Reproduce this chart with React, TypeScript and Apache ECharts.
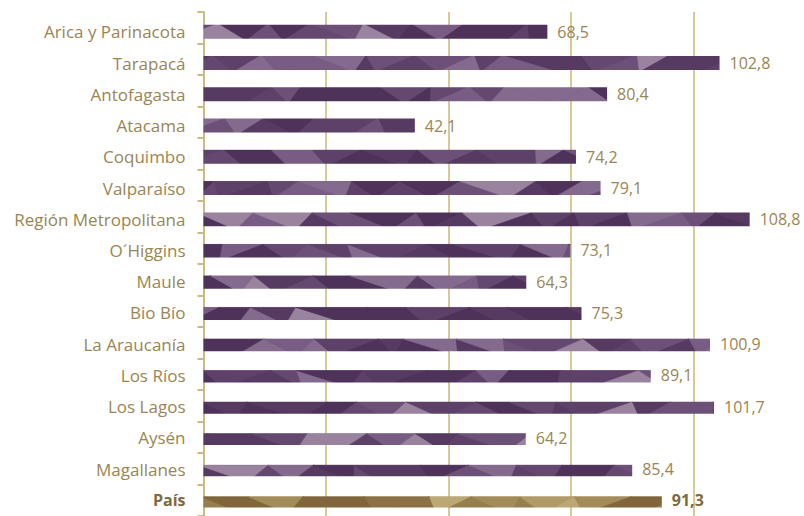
import { useEffect, useRef } from "react";
import * as echarts from "echarts";

const regions = [
  "Arica y Parinacota",
  "Tarapacá",
  "Antofagasta",
  "Atacama",
  "Coquimbo",
  "Valparaíso",
  "Región Metropolitana",
  "O´Higgins",
  "Maule",
  "Bio Bío",
  "La Araucanía",
  "Los Ríos",
  "Los Lagos",
  "Aysén",
  "Magallanes",
  "País",
];
const values = [68.5, 102.8, 80.4, 42.1, 74.2, 79.1, 108.8, 73.1, 64.3, 75.3, 100.9, 89.1, 101.7, 64.2, 85.4, 91.3];
const totalLabel = "País";

const W = 804;
const H = 516;
const LEFT = 203.5;
const PX = 5.02;
const STEP = 24.4;
const XMAX = 119;
const BAND = 31.55;
const N = regions.length;
const TOP_A = 12;
const TOP_B = 16.2;
const BAR = 14;

const purple = ["#4f325a", "#573a62", "#5e4169", "#654870", "#6d5078", "#785c83", "#846a8d", "#9a839f"];
const gold = ["#80663a", "#8b7144", "#977e4e", "#a48c5a", "#b09a67", "#bca874", "#c6b480"];

function frac(x: number) {
  return x - Math.floor(x);
}
function hs(a: number, b: number) {
  return frac(Math.sin(a * 127.1 + b * 311.7) * 43758.5453);
}

function makeTexture(): string {
  const c = document.createElement("canvas");
  c.width = W;
  c.height = H;
  const g = c.getContext("2d")!;
  for (let i = 0; i < N; i++) {
    const pal = i === N - 1 ? gold : purple;
    const yc = TOP_B + (i + 0.5) * BAND;
    const y0 = yc - BAR / 2 - 1.5;
    const y1 = yc + BAR / 2 + 1.5;
    g.fillStyle = pal[2];
    g.fillRect(0, y0, W, y1 - y0);
    const step = 52;
    const tops: number[] = [];
    const bots: number[] = [];
    for (let k = -1; k * step < W + 2 * step; k++) {
      tops.push(k * step + (hs(i + 1, k + 3) - 0.5) * 34);
      bots.push(k * step + step / 2 + (hs(i + 61, k + 7) - 0.5) * 34);
    }
    const pick = (a: number, b: number) => {
      const r = hs(a, b);
      const idx = Math.min(pal.length - 1, Math.floor(Math.pow(r, 1.7) * pal.length));
      return pal[idx];
    };
    const tri = (ax: number, ay: number, bx: number, by: number, cx: number, cy: number, col: string) => {
      g.beginPath();
      g.moveTo(ax, ay);
      g.lineTo(bx, by);
      g.lineTo(cx, cy);
      g.closePath();
      g.fillStyle = col;
      g.strokeStyle = col;
      g.lineWidth = 0.6;
      g.fill();
      g.stroke();
    };
    for (let k = 0; k < tops.length - 1; k++) {
      tri(tops[k], y0, tops[k + 1], y0, bots[k], y1, pick(i * 3 + 11, k * 2 + 1));
      tri(tops[k + 1], y0, bots[k], y1, bots[k + 1], y1, pick(i * 3 + 17, k * 2 + 2));
    }
  }
  return c.toDataURL();
}

const fmt = (v: number) => v.toFixed(1).replace(".", ",");

export default function App() {
  const ref = useRef<HTMLDivElement>(null);
  useEffect(() => {
    document.body.style.margin = "0";
    if (!ref.current) return;
    const chart = echarts.init(ref.current, null, { renderer: "svg" });
    const tex = makeTexture();
    const font = "Open Sans";
    chart.setOption({
      animation: false,
      grid: [
        { left: LEFT, top: TOP_A, width: XMAX * PX, height: N * BAND },
        { left: LEFT, top: TOP_B, width: XMAX * PX, height: N * BAND },
      ],
      xAxis: [
        {
          gridIndex: 0,
          type: "value",
          min: 0,
          max: XMAX,
          interval: STEP,
          axisLine: { show: false },
          axisTick: { show: false },
          axisLabel: { show: false },
          splitLine: {
            show: true,
            showMinLine: false,
            showMaxLine: false,
            lineStyle: { color: "#d8ca98", width: 2 },
          },
        },
        {
          gridIndex: 1,
          type: "value",
          min: 0,
          max: XMAX,
          interval: STEP,
          show: false,
          splitLine: { show: false },
        },
      ],
      yAxis: [
        {
          gridIndex: 0,
          type: "category",
          data: regions,
          inverse: true,
          axisLine: { show: true, lineStyle: { color: "#ccba84", width: 2 } },
          axisTick: { show: true, length: 6, lineStyle: { color: "#ccba84", width: 2 } },
          axisLabel: { show: false },
          splitLine: { show: false },
        },
        {
          gridIndex: 1,
          type: "category",
          data: regions,
          inverse: true,
          axisLine: { show: false },
          axisTick: { show: false },
          splitLine: { show: false },
          axisLabel: {
            margin: 18,
            color: "#9a8553",
            fontSize: 17,
            fontFamily: font,
            formatter: (v: string) => (v === totalLabel ? `{b|${v}}` : v),
            rich: {
              b: { fontWeight: "bold", color: "#7d6a3e", fontSize: 16, fontFamily: font },
            },
          },
        },
      ],
      series: [
        {
          type: "bar",
          xAxisIndex: 1,
          yAxisIndex: 1,
          barWidth: BAR,
          itemStyle: {
            color: { image: tex, repeat: "repeat", imageWidth: W, imageHeight: H },
          },
          label: {
            show: true,
            position: "right",
            distance: 10,
            color: "#9a8553",
            fontSize: 16,
            fontFamily: font,
            formatter: (p: any) => fmt(p.value),
          },
          data: values.map((v, i) =>
            regions[i] === totalLabel
              ? { value: v, label: { fontWeight: "bold", color: "#7d6a3e" } }
              : { value: v }
          ),
        },
      ],
    });
    return () => chart.dispose();
  }, []);
  return <div ref={ref} style={{ width: W, height: H }} />;
}
